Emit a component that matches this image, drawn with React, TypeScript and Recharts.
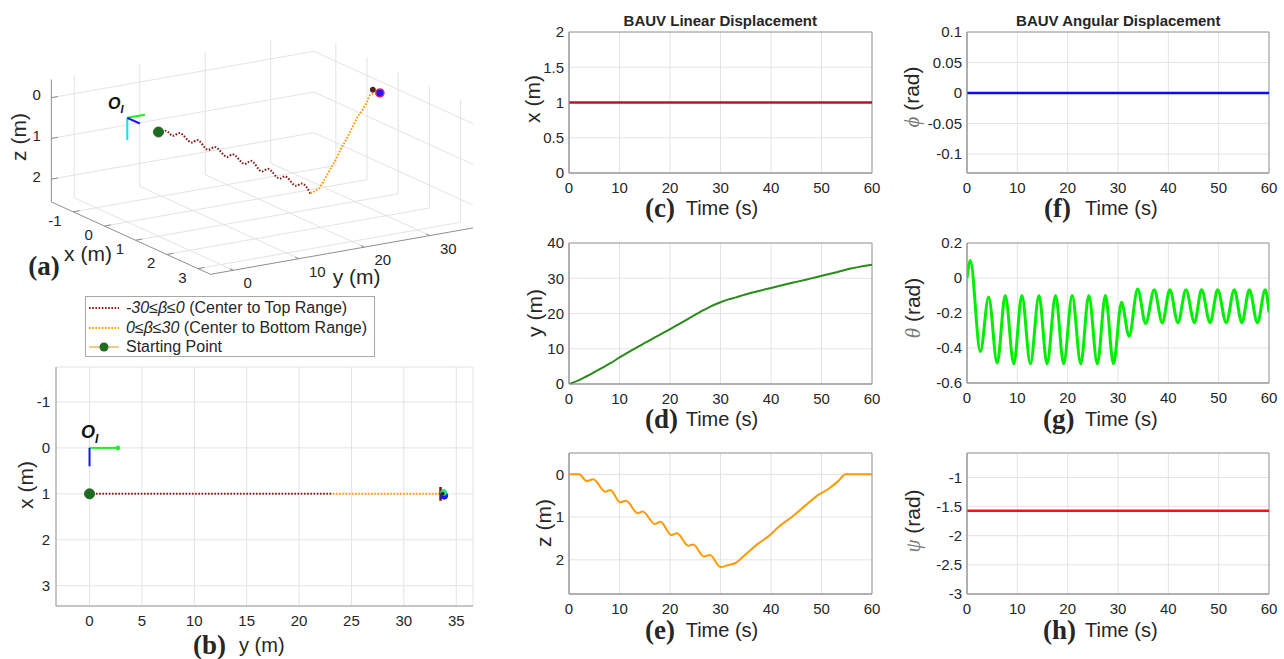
import React from 'react';
import { LineChart, ComposedChart, Line, XAxis, YAxis, CartesianGrid, ReferenceArea } from 'recharts';

const SANS = '"Liberation Sans", Arial, Helvetica, sans-serif';
const SERIF = '"Liberation Serif", "Times New Roman", serif';
const TEXT = '#262626';
const GRID = '#e3e3e3';
const FRAME = '#9a9a9a';

// ---------- time series data ----------
const TIME = [0, 2.0, 3.5, 4.8, 7.2, 8.2, 10.1, 11.3, 13.6, 14.6, 17.0, 18.1, 20.3, 21.4, 23.6, 24.6, 26.7, 27.9, 30.0, 31.6, 32.9, 34.9, 37.6, 39.6, 41.6, 44.2, 46.9, 48.9, 51.5, 53.2, 54.8, 60];
const X_POS = [1, 1, 1, 1, 1, 1, 1, 1, 1, 1, 1, 1, 1, 1, 1, 1, 1, 1, 1, 1, 1, 1, 1, 1, 1, 1, 1, 1, 1, 1, 1, 1];
const Y_POS = [0, 1.1, 2.2, 3.2, 5.1, 5.9, 7.6, 8.6, 10.5, 11.3, 13.2, 14.1, 15.8, 16.7, 18.5, 19.3, 21.0, 21.9, 23.2, 24.0, 24.5, 25.4, 26.4, 27.1, 27.8, 28.7, 29.6, 30.3, 31.2, 31.8, 32.4, 33.8];
const Z_POS = [0, 0, 0.156, 0.117, 0.405, 0.366, 0.654, 0.615, 0.91, 0.87, 1.16, 1.11, 1.42, 1.38, 1.67, 1.64, 1.92, 1.89, 2.17, 2.12, 2.08, 1.88, 1.61, 1.44, 1.22, 0.99, 0.72, 0.52, 0.33, 0.17, 0, 0];

const CONST_TIME = [0, 60];
const X_VALUES = [1, 1];
const PHI_VALUES = [0, 0];
const PSI_VALUES = [-1.571, -1.571];

const THETA_TIME = [0, 0.66, 2.65, 4.3, 6.0, 7.6, 9.3, 10.9, 12.6, 14.3, 15.9, 17.6, 19.2, 20.9, 22.6, 24.2, 25.9, 27.5, 29.1, 30.7, 32.2, 33.9, 35.5, 37.2, 38.8, 40.3, 41.9, 43.5, 45.2, 46.6, 48.3, 49.8, 51.5, 53.1, 54.6, 56.1, 57.7, 59.25, 60];
const THETA_VALUES = [0, 0.10, -0.42, -0.109, -0.486, -0.10, -0.49, -0.10, -0.49, -0.10, -0.49, -0.10, -0.49, -0.10, -0.49, -0.10, -0.49, -0.10, -0.49, -0.139, -0.333, -0.063, -0.26, -0.067, -0.257, -0.067, -0.255, -0.067, -0.255, -0.067, -0.255, -0.067, -0.255, -0.067, -0.255, -0.067, -0.255, -0.067, -0.196];

const T_TICKS = [0, 10, 20, 30, 40, 50, 60];
const SPLIT_TIME = 30;

// ---------- 3D view ----------
const X3_TICKS = [-1, 0, 1, 2, 3];
const Y3_TICKS = [0, 10, 20, 30];
const Z3_TICKS = [0, 1, 2];
const X3_LIM = [-1.7, 3.4];
const Y3_LIM = [-3.5, 36.6];
const Z3_LIM = [-0.45, 2.56];
const VIEW = { ox: 127.3, oy: 117.8, exx: 31.2, exy: 14.2, eyx: 6.55, eyy: -1.157, ezx: 0, ezy: 40.7 };

const FRAME_Y_LEN = 2.7;
const FRAME_X_LEN = 0.4;
const FRAME_Z_LEN = 0.55;

// ---------- top view (b) ----------
const B_X_TICKS = [0, 5, 10, 15, 20, 25, 30, 35];
const B_Y_TICKS = [-1, 0, 1, 2, 3];

type V3 = [number, number, number];
type P = { px: number; py: number | null };

const p3 = (x: number, y: number, z: number): P => ({
  px: VIEW.ox + x * VIEW.exx + y * VIEW.eyx + z * VIEW.ezx,
  py: VIEW.oy + x * VIEW.exy + y * VIEW.eyy + z * VIEW.ezy,
});

function segs(list: [V3, V3][]): P[] {
  const out: P[] = [];
  list.forEach(([a, b]) => {
    const pa = p3(a[0], a[1], a[2]);
    const pb = p3(b[0], b[1], b[2]);
    out.push(pa, pb, { px: pb.px, py: null });
  });
  return out;
}

const [XMIN, XMAX] = X3_LIM;
const [YMIN, YMAX] = Y3_LIM;
const [ZMIN, ZMAX] = Z3_LIM;

const GRID3: [V3, V3][] = [
  ...Y3_TICKS.map((y) => [[XMIN, y, ZMIN], [XMIN, y, ZMAX]] as [V3, V3]),
  ...Z3_TICKS.map((z) => [[XMIN, YMIN, z], [XMIN, YMAX, z]] as [V3, V3]),
  ...X3_TICKS.map((x) => [[x, YMAX, ZMIN], [x, YMAX, ZMAX]] as [V3, V3]),
  ...Z3_TICKS.map((z) => [[XMIN, YMAX, z], [XMAX, YMAX, z]] as [V3, V3]),
  ...X3_TICKS.map((x) => [[x, YMIN, ZMAX], [x, YMAX, ZMAX]] as [V3, V3]),
  ...Y3_TICKS.map((y) => [[XMIN, y, ZMAX], [XMAX, y, ZMAX]] as [V3, V3]),
];
const AXES3: [V3, V3][] = [
  [[XMIN, YMIN, ZMIN], [XMIN, YMIN, ZMAX]],
  [[XMIN, YMIN, ZMAX], [XMAX, YMIN, ZMAX]],
  [[XMAX, YMIN, ZMAX], [XMAX, YMAX, ZMAX]],
  ...X3_TICKS.map((x) => [[x, YMIN, ZMAX], [x, YMIN + 1.0, ZMAX]] as [V3, V3]),
  ...Y3_TICKS.map((y) => [[XMAX, y, ZMAX], [XMAX - 0.12, y, ZMAX]] as [V3, V3]),
  ...Z3_TICKS.map((z) => [[XMIN, YMIN, z], [XMIN, YMIN + 1.0, z]] as [V3, V3]),
];

const trajIdxTop = TIME.map((t, i) => i).filter((i) => TIME[i] <= SPLIT_TIME);
const trajIdxBot = TIME.map((t, i) => i).filter((i) => TIME[i] >= SPLIT_TIME);
const traj3Top = trajIdxTop.map((i) => p3(X_POS[i], Y_POS[i], Z_POS[i]));
const traj3Bot = trajIdxBot.map((i) => p3(X_POS[i], Y_POS[i], Z_POS[i]));
const start3 = [p3(X_POS[0], Y_POS[0], Z_POS[0])];
const last = TIME.length - 1;
const end3 = p3(X_POS[last], Y_POS[last], Z_POS[last]);

const frameG3 = [p3(0, 0, 0), p3(0, FRAME_Y_LEN, 0)];
const frameB3 = [p3(0, 0, 0), p3(FRAME_X_LEN, 0, 0)];
const frameC3 = [p3(0, 0, 0), p3(0, 0, FRAME_Z_LEN)];

const trajBTop = trajIdxTop.map((i) => ({ yy: Y_POS[i], xx: X_POS[i] }));
const trajBBot = trajIdxBot.map((i) => ({ yy: Y_POS[i], xx: X_POS[i] }));

const rows = (ts: number[], vs: number[]) => ts.map((t, i) => ({ t, v: vs[i] }));

// ---------- helpers ----------
function Txt(props: { x: number; y: number; children: React.ReactNode; size?: number; anchor?: 'start' | 'middle' | 'end'; rotate?: number; weight?: any; family?: string; italic?: boolean; color?: string; lh?: number }) {
  const { x, y, children, size = 15, anchor = 'middle', rotate = 0, weight = 'normal', family = SANS, italic = false, color = TEXT, lh = 1 } = props;
  const tx = anchor === 'start' ? '0%' : anchor === 'end' ? '-100%' : '-50%';
  return (
    <div
      style={{
        position: 'absolute', left: x, top: y,
        transform: `translate(${tx},-50%) rotate(${rotate}deg)`,
        fontSize: size, fontFamily: family, fontWeight: weight, fontStyle: italic ? 'italic' : 'normal',
        whiteSpace: 'nowrap', lineHeight: lh, color,
      }}
    >
      {children}
    </div>
  );
}

const tickStyle = { fill: TEXT, fontSize: 15, fontFamily: SANS };

function TimePlot(props: {
  left: number; top: number; w: number; h: number;
  data: { t: number; v: number }[];
  yDomain: [number, number]; yTicks: number[]; reversed?: boolean;
  color: string; strokeWidth: number; curve: 'monotone' | 'linear';
}) {
  const YW = 60, XH = 30, MT = 10, MR = 10;
  return (
    <div style={{ position: 'absolute', left: props.left - YW, top: props.top - MT }}>
      <LineChart width={props.w + YW + MR} height={props.h + MT + XH} data={props.data} margin={{ top: MT, right: MR, bottom: 0, left: 0 }}>
        <CartesianGrid stroke={GRID} />
        <XAxis type="number" dataKey="t" domain={[0, 60]} ticks={T_TICKS} interval={0} allowDataOverflow height={XH}
          tickLine={false} tickSize={0} tickMargin={9} axisLine={{ stroke: FRAME }} tick={tickStyle} />
        <YAxis type="number" domain={props.yDomain} ticks={props.yTicks} interval={0} allowDataOverflow reversed={props.reversed}
          width={YW} tickLine={false} tickSize={0} tickMargin={5} axisLine={{ stroke: FRAME }} tick={tickStyle} />
        <ReferenceArea x1={0} x2={60} y1={props.yDomain[0]} y2={props.yDomain[1]} fill="none" fillOpacity={0} stroke={FRAME} strokeWidth={1} ifOverflow="visible" />
        <Line dataKey="v" type={props.curve} stroke={props.color} strokeWidth={props.strokeWidth} dot={false} activeDot={false} isAnimationActive={false} />
      </LineChart>
    </div>
  );
}

function Chart3D() {
  const W = 490, H = 300;
  const line = (data: P[], stroke: string, width: number, key: string, dash?: string, curve: 'linear' | 'monotone' = 'linear') => (
    <Line key={key} id={key} data={data} dataKey="py" type={curve} stroke={stroke} strokeWidth={width} strokeDasharray={dash}
      dot={false} activeDot={false} isAnimationActive={false} />
  );
  const marker = (pt: P, key: string, r: number, fill: string, stroke: string, sw = 1) => (
    <Line key={key} id={key} data={[pt]} dataKey="py" stroke="none" dot={{ r, fill, stroke, strokeWidth: sw }} activeDot={false} isAnimationActive={false} />
  );
  return (
    <div style={{ position: 'absolute', left: 0, top: 0 }}>
      <ComposedChart width={W} height={H} margin={{ top: 0, right: 0, bottom: 0, left: 0 }}>
        <XAxis type="number" dataKey="px" domain={[0, W]} hide allowDataOverflow />
        <YAxis type="number" domain={[0, H]} reversed hide allowDataOverflow width={0} />
        {line(segs(GRID3), GRID, 1, 'grid3')}
        {line(segs(AXES3), '#8f8f8f', 1, 'axes3')}
        {line(traj3Top, '#8b1a1a', 2, 'trajTop3', '1.6 1.6', 'monotone')}
        {line(traj3Bot, '#ff9900', 2, 'trajBot3', '1.6 1.6', 'monotone')}
        {line(frameC3, '#00e5ff', 2, 'fc3')}
        {line(frameG3, '#22ee22', 2, 'fg3')}
        {line(frameB3, '#1414ff', 2, 'fb3')}
        {marker(start3[0], 'start3', 5, '#1f6b1f', '#1f6b1f')}
        {marker(p3(0.9, 33.2, -0.06), 'endk3', 2.5, '#6b1a1a', '#222')}
        {marker(end3, 'end3', 4, '#1a1aff', '#e0206a', 1.5)}
      </ComposedChart>
    </div>
  );
}

function Labels3D() {
  const out: React.ReactNode[] = [];
  Z3_TICKS.forEach((z) => {
    const p = p3(XMIN, YMIN, z);
    out.push(<Txt key={'z' + z} x={p.px - 10.5} y={(p.py as number) - 2.5} anchor="end" lh={0.8}>{String(z)}</Txt>);
  });
  X3_TICKS.forEach((x) => {
    const p = p3(x, YMIN, ZMAX);
    out.push(<Txt key={'x' + x} x={p.px - 11.5} y={(p.py as number) + 9} anchor="end" lh={0.8}>{String(x)}</Txt>);
  });
  Y3_TICKS.forEach((y) => {
    const p = p3(XMAX, y, ZMAX);
    out.push(<Txt key={'y' + y} x={p.px + 10} y={(p.py as number) + 13} anchor="start" lh={0.8}>{String(y)}</Txt>);
  });
  return <>{out}</>;
}

function ChartTop() {
  const left = 56, top = 367, w = 417, h = 239;
  const YW = 40, XH = 30, MT = 5, MR = 5;
  const seg = (data: { yy: number; xx: number }[], stroke: string, width: number, key: string, dash?: string) => (
    <Line key={key} id={key} data={data} dataKey="xx" type="linear" stroke={stroke} strokeWidth={width} strokeDasharray={dash}
      dot={false} activeDot={false} isAnimationActive={false} />
  );
  const marker = (pt: { yy: number; xx: number }, key: string, r: number, fill: string) => (
    <Line key={key} id={key} data={[pt]} dataKey="xx" stroke="none" dot={{ r, fill, stroke: fill }} activeDot={false} isAnimationActive={false} />
  );
  return (
    <div style={{ position: 'absolute', left: left - YW, top: top - MT }}>
      <LineChart width={w + YW + MR} height={h + MT + XH} margin={{ top: MT, right: MR, bottom: 0, left: 0 }}>
        <CartesianGrid stroke={GRID} />
        <XAxis type="number" dataKey="yy" domain={[-3.2, 36.6]} ticks={B_X_TICKS} interval={0} allowDataOverflow height={XH}
          tickLine={false} tickSize={0} tickMargin={9} axisLine={{ stroke: FRAME }} tick={tickStyle} />
        <YAxis type="number" domain={[-1.76, 3.44]} ticks={B_Y_TICKS} interval={0} reversed allowDataOverflow width={YW}
          tickLine={false} tickSize={0} tickMargin={6} axisLine={{ stroke: FRAME }} tick={tickStyle} />
        {seg(trajBTop, '#8b1a1a', 2, 'bTop', '1.6 1.6')}
        {seg(trajBBot, '#ff9900', 2, 'bBot', '1.6 1.6')}
        {seg([{ yy: 0, xx: 0 }, { yy: FRAME_Y_LEN, xx: 0 }], '#22ee22', 2, 'bFg')}
        {marker({ yy: FRAME_Y_LEN, xx: 0 }, 'bFgHead', 2, '#22ee22')}
        {seg([{ yy: 0, xx: 0 }, { yy: 0, xx: FRAME_X_LEN }], '#1414ff', 2, 'bFb')}
        {seg([{ yy: Y_POS[last] - 0.3, xx: 0.85 }, { yy: Y_POS[last] - 0.3, xx: 1.15 }], '#7a1010', 2.5, 'bBar')}
        {marker({ yy: Y_POS[last] + 0.05, xx: 1.04 }, 'bEndB', 3.5, '#1a1aff')}
        {marker({ yy: Y_POS[last], xx: 0.97 }, 'bEndG', 3, '#2ee08a')}
        {marker({ yy: Y_POS[last] - 0.1, xx: 1.0 }, 'bEndK', 1.5, '#222')}
        {marker({ yy: Y_POS[0], xx: X_POS[0] }, 'bStart', 5, '#1f6b1f')}
      </LineChart>
    </div>
  );
}

function Legend() {
  const rowsL = [
    { y: 11.3, dash: true, color: '#8b1a1a', label: <><i>-30≤β≤0</i> (Center to Top Range)</> },
    { y: 30.7, dash: true, color: '#ff9900', label: <><i>0≤β≤30</i> (Center to Bottom Range)</> },
    { y: 50, dash: false, color: '#f3c98c', label: <>Starting Point</> },
  ];
  return (
    <div style={{ position: 'absolute', left: 85, top: 296, width: 290, height: 61, border: '1px solid #a8a8a8', background: '#fff', boxSizing: 'border-box' }}>
      {rowsL.map((r, i) => (
        <React.Fragment key={i}>
          <svg width={32} height={12} style={{ position: 'absolute', left: 2, top: r.y - 6 }}>
            <line x1={1} y1={6} x2={31} y2={6} stroke={r.color} strokeWidth={2} strokeDasharray={r.dash ? '1.6 1.6' : undefined} />
            {!r.dash && <circle cx={16} cy={6} r={4.5} fill="#1f6b1f" />}
          </svg>
          <div style={{ position: 'absolute', left: 40, top: r.y, transform: 'translateY(-50%)', fontSize: 16, fontFamily: SANS, color: TEXT, whiteSpace: 'nowrap', lineHeight: 1 }}>
            {r.label}
          </div>
        </React.Fragment>
      ))}
    </div>
  );
}

function Caption(props: { letter: string; x: number; tx: number; y: number }) {
  return (
    <>
      <Txt x={props.x} y={props.y + 1} anchor="start" size={27} weight="bold" family={SERIF} lh={0.8}>{props.letter}</Txt>
      <Txt x={props.tx} y={props.y} anchor="start" size={20} lh={0.9}>Time (s)</Txt>
    </>
  );
}

function GreekLabel(props: { x: number; y: number; sym: string }) {
  return (
    <Txt x={props.x} y={props.y} rotate={-90} size={21}>
      <span style={{ fontFamily: SERIF, fontStyle: 'italic', color: '#777' }}>{props.sym}</span> (rad)
    </Txt>
  );
}

export default function App() {
  return (
    <div style={{ position: 'absolute', left: 0, top: 0, width: 1284, height: 659, overflow: 'hidden', background: '#fff' }}>
      <Chart3D />
      <Labels3D />
      <Txt x={18.3} y={136.7} rotate={-90} size={21}>z (m)</Txt>
      <Txt x={88} y={254} size={21} lh={0.8}>x (m)</Txt>
      <Txt x={356.7} y={277} size={21} lh={0.8}>y (m)</Txt>
      <Txt x={44} y={267} size={27} weight="bold" family={SERIF} lh={0.8}>(a)</Txt>
      <div style={{ position: 'absolute', left: 108, top: 96, fontFamily: SANS, fontWeight: 'bold', fontStyle: 'italic', fontSize: 16, lineHeight: 1, color: '#111' }}>
        O<span style={{ fontSize: 11, position: 'relative', top: 4 }}>I</span>
      </div>

      <ChartTop />
      <Txt x={25} y={485} rotate={-90} size={21}>x (m)</Txt>
      <Txt x={193} y={646} anchor="start" size={27} weight="bold" family={SERIF} lh={0.8}>(b)</Txt>
      <Txt x={239} y={645} anchor="start" size={20} lh={0.9}>y (m)</Txt>
      <div style={{ position: 'absolute', left: 81, top: 423, fontFamily: SANS, fontWeight: 'bold', fontStyle: 'italic', fontSize: 18, lineHeight: 1, color: '#111' }}>
        O<span style={{ fontSize: 12, position: 'relative', top: 5 }}>I</span>
      </div>
      <Legend />

      <Txt x={720.3} y={20.3} size={15} weight="bold">BAUV Linear Displacement</Txt>
      <Txt x={1118.3} y={20.3} size={15} weight="bold">BAUV Angular Displacement</Txt>

      <TimePlot left={569} top={32} w={303} h={141} data={rows(CONST_TIME, X_VALUES)} yDomain={[0, 2]} yTicks={[0, 0.5, 1, 1.5, 2]} color="#a81c24" strokeWidth={2.6} curve="linear" />
      <Txt x={531.7} y={99} rotate={-90} size={21}>x (m)</Txt>
      <Caption letter="(c)" x={645} tx={685.7} y={208} />

      <TimePlot left={569} top={243} w={303} h={141} data={rows(TIME, Y_POS)} yDomain={[0, 40]} yTicks={[0, 10, 20, 30, 40]} color="#2a8a1a" strokeWidth={2} curve="monotone" />
      <Txt x={534} y={313} rotate={-90} size={21}>y (m)</Txt>
      <Caption letter="(d)" x={645} tx={685.7} y={419} />

      <TimePlot left={569} top={453} w={303} h={141} data={rows(TIME, Z_POS)} yDomain={[-0.5, 2.8]} yTicks={[0, 1, 2]} reversed color="#ff9a00" strokeWidth={2} curve="monotone" />
      <Txt x={543} y={523} rotate={-90} size={21}>z (m)</Txt>
      <Caption letter="(e)" x={645} tx={685.7} y={630} />

      <TimePlot left={967} top={32} w={302} h={141} data={rows(CONST_TIME, PHI_VALUES)} yDomain={[-0.131, 0.1]} yTicks={[-0.1, -0.05, 0, 0.05, 0.1]} color="#0a0aff" strokeWidth={2.6} curve="linear" />
      <GreekLabel x={912} y={97} sym="ϕ" />
      <Caption letter="(f)" x={1044} tx={1085} y={208} />

      <TimePlot left={967} top={243} w={302} h={140} data={rows(THETA_TIME, THETA_VALUES)} yDomain={[-0.6, 0.2]} yTicks={[-0.6, -0.4, -0.2, 0, 0.2]} color="#00ee00" strokeWidth={3} curve="monotone" />
      <GreekLabel x={913} y={308} sym="θ" />
      <Caption letter="(g)" x={1043} tx={1085} y={419} />

      <TimePlot left={967} top={453} w={302} h={141} data={rows(CONST_TIME, PSI_VALUES)} yDomain={[-3, -0.58]} yTicks={[-3, -2.5, -2, -1.5, -1]} color="#ff1010" strokeWidth={2.6} curve="linear" />
      <GreekLabel x={913} y={521} sym="ψ" />
      <Caption letter="(h)" x={1043} tx={1085} y={630} />
    </div>
  );
}
